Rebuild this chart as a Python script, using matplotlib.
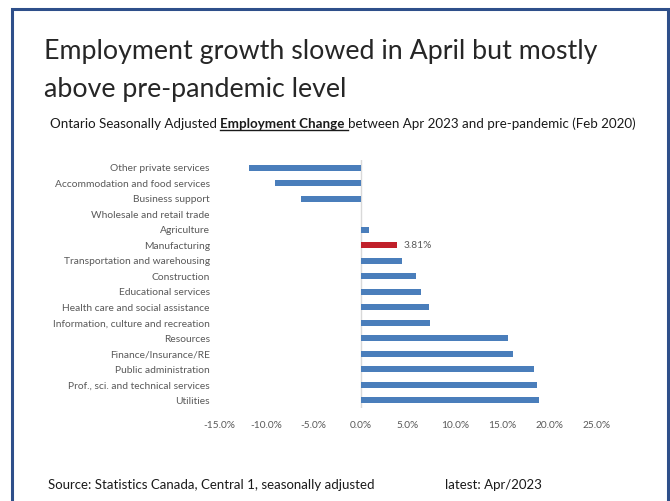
import matplotlib
matplotlib.use("Agg")
import matplotlib.pyplot as plt
from matplotlib.patches import Rectangle
from matplotlib.lines import Line2D

plt.rcParams['font.family'] = ['Lato', 'DejaVu Sans']

sectors = [
    "Other private services",
    "Accommodation and food services",
    "Business support",
    "Wholesale and retail trade",
    "Agriculture",
    "Manufacturing",
    "Transportation and warehousing",
    "Construction",
    "Educational services",
    "Health care and social assistance",
    "Information, culture and recreation",
    "Resources",
    "Finance/Insurance/RE",
    "Public administration",
    "Prof., sci. and technical services",
    "Utilities",
]
change_pct = [-11.9, -9.1, -6.4, 0.0, 0.85, 3.81, 4.4, 5.9,
              6.4, 7.25, 7.35, 15.6, 16.1, 18.4, 18.7, 18.9]
highlight = "Manufacturing"
xticks = [-15, -10, -5, 0, 5, 10, 15, 20, 25]

blue = "#4A7EBB"
red = "#C0202A"
grey = "#595959"

fig = plt.figure(figsize=(6.70, 5.01), dpi=100)

# outer frame
fig.patches.append(Rectangle((12 / 670, -0.05), 656 / 670, 1.05 - 9 / 501,
                             transform=fig.transFigure, fill=False,
                             edgecolor="#2E4F8A", linewidth=2.2))

fig.text(44 / 670, 1 - 52 / 501, "Employment growth slowed in April but mostly",
         fontsize=19.3, color="#262626", va="center", ha="left")
fig.text(44 / 670, 1 - 89 / 501, "above pre-pandemic level",
         fontsize=19.3, color="#262626", va="center", ha="left")

# subtitle in three pieces so the middle one can be bold and underlined
sub_y = 1 - 128 / 501
parts = [("Ontario Seasonally Adjusted ", "normal"),
         ("Employment Change ", "bold"),
         ("between Apr 2023 and pre-pandemic (Feb 2020)", "normal")]
fig.canvas.draw()
renderer = fig.canvas.get_renderer()
x = 50 / 670
for i, (txt, weight) in enumerate(parts):
    t = fig.text(x, sub_y, txt, fontsize=9.6, fontweight=weight,
                 color="#1a1a1a", va="baseline", ha="left")
    bb = t.get_window_extent(renderer).transformed(fig.transFigure.inverted())
    if i == 1:
        fig.lines.append(Line2D([x, bb.x1], [sub_y - 2.2 / 501] * 2,
                                transform=fig.transFigure, color="#1a1a1a",
                                linewidth=1.0))
    x = bb.x1

ax = fig.add_axes([219.5 / 670, 1 - 408 / 501, 377 / 670, 248 / 501])
ypos = list(range(len(sectors)))
colors = [red if s == highlight else blue for s in sectors]
bars = ax.barh(ypos, change_pct, height=0.38, color=colors)
ax.set_xlim(-15, 25)
ax.set_ylim(len(sectors) - 0.5, -0.5)
ax.set_xticks(xticks)
ax.set_xticklabels([f"{v:.1f}%" for v in xticks], fontsize=7.3, color=grey)
ax.set_yticks(ypos)
ax.set_yticklabels(sectors, fontsize=7.4, color=grey)
ax.tick_params(axis="both", length=0)
ax.tick_params(axis="y", pad=7)
ax.tick_params(axis="x", pad=9)
for side in ["top", "right", "bottom", "left"]:
    ax.spines[side].set_visible(False)
ax.axvline(0, color="#D9D9D9", linewidth=1.0, zorder=0)

i = sectors.index(highlight)
ax.annotate(f"{change_pct[i]:.2f}%", (change_pct[i], i), xytext=(5, 0),
            textcoords="offset points", va="center", ha="left",
            fontsize=7.3, color=grey)

fig.text(48 / 670, 1 - 485 / 501, "Source: Statistics Canada, Central 1, seasonally adjusted",
         fontsize=9.5, color="#1a1a1a", va="center", ha="left")
fig.text(445 / 670, 1 - 485 / 501, "latest: Apr/2023",
         fontsize=9.5, color="#1a1a1a", va="center", ha="left")

fig.savefig("out.png", dpi=100)
